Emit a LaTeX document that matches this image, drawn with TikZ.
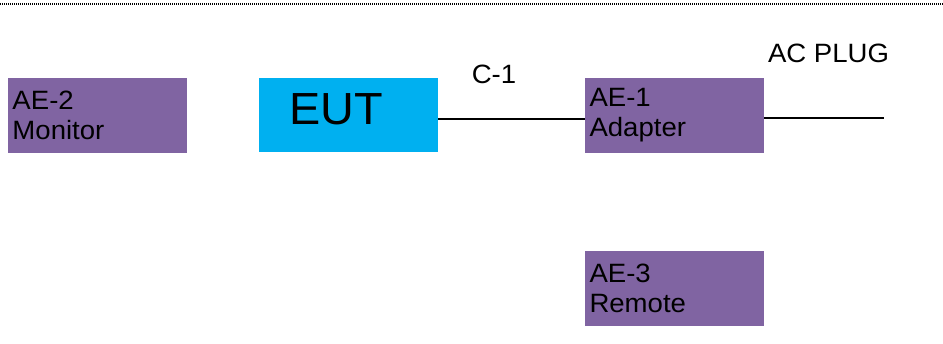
\documentclass[tikz,border=0pt]{standalone}
\usepackage{fontspec}
\setmainfont{Liberation Sans}
\newfontfamily\boxfont[FakeStretch=1.04]{Liberation Sans}
\usepackage{tikz}
\tikzset{>=latex}
\definecolor{ae}{HTML}{8064A2}
\definecolor{eut}{HTML}{00B0F0}
\tikzstyle{AE box}=[fill=ae,minimum width=179pt,minimum height=75pt,
  inner xsep=4.5pt,inner ysep=0pt,text width=170pt,align=left,
  font=\boxfont\fontsize{26.5}{30}\selectfont]
\tikzstyle{EUT box}=[fill=eut,minimum width=179pt,minimum height=74pt,
  inner xsep=30pt,inner ysep=0pt,text width=119pt,align=left,text depth=12pt,
  font=\boxfont\fontsize{45}{54}\selectfont]
\tikzstyle{cable}=[line width=1.2pt]
\tikzstyle{tag}=[font=\boxfont\fontsize{26.5}{30}\selectfont,inner sep=0pt]

\begin{document}
\begin{tikzpicture}[x=1pt,y=-1pt]
  \useasboundingbox (0,0) rectangle (943,344);
  \draw[line width=1.3pt,dash pattern=on 1pt off 1pt] (0,4) -- (943,4);
  \node[AE box]  (AE2) at (97.5,115.5) {AE-2\\Monitor};
  \node[EUT box] (EUT) at (348.5,115)  {EUT};
  \node[AE box]  (AE1) at (674.5,115.5) {AE-1\\Adapter};
  \node[AE box]  (AE3) at (674.5,288.5) {AE-3\\Remote};
  \coordinate (c1) at (438,119);
  \coordinate (plug) at (884,118);
  \draw[cable] (c1) -- (AE1.west |- c1);
  \draw[cable] (AE1.east |- plug) -- (plug);
  \node[tag] (C1) at (494,74) {C-1};
  \node[tag] (ac) at (828.5,53.5) {AC PLUG};
\end{tikzpicture}
\end{document}
